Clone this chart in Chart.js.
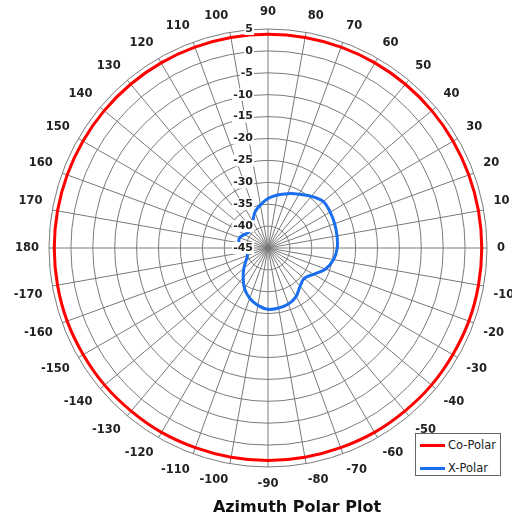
<!DOCTYPE html>
<html>
<head>
<meta charset="utf-8">
<script src="https://cdn.jsdelivr.net/npm/chart.js@4/dist/chart.umd.min.js"></script>
<style>
  body { margin: 0; background: #fff; }
  #wrap { position: relative; width: 512px; height: 520px; overflow: hidden; }
  #polarChart { position: absolute; left: -24px; top: -24px; }
  #plotTitle {
    position: absolute; left: 147px; top: 499px; width: 300px; text-align: center;
    font: bold 16px "DejaVu Sans", sans-serif; line-height: 16px; color: #111;
  }
  #legendBox {
    position: absolute; left: 415px; top: 433px; width: 84px; height: 41px;
    border: 1px solid #666; background: #fff;
    font: 11.5px "DejaVu Sans", sans-serif; color: #222;
  }
  .legendRow { position: absolute; left: 4px; height: 14px; line-height: 14px; white-space: nowrap; }
  .legendRow span.swatch { display: inline-block; width: 25px; height: 3px; vertical-align: middle; margin-right: 3px; }
</style>
</head>
<body>
<div id="wrap">
  <canvas id="polarChart" width="560" height="560"></canvas>
  <div id="plotTitle">Azimuth Polar Plot</div>
  <div id="legendBox"></div>
</div>
<script>
// azimuth in degrees, 0 = right, counter-clockwise
const azimuthDeg = [0, 10, 20, 30, 40, 50, 60, 70, 80, 90, 100, 110, 120, 130, 140, 150, 160, 170,
                    180, 190, 200, 210, 220, 230, 240, 250, 260, 270, 280, 290, 300, 310, 320, 330, 340, 350];
const azimuthLabels = ['0', '10', '20', '30', '40', '50', '60', '70', '80', '90', '100', '110', '120', '130', '140', '150', '160', '170',
                       '180', '-170', '-160', '-150', '-140', '-130', '-120', '-110', '-100', '-90', '-80', '-70', '-60', '-50', '-40', '-30', '-20', '-10'];

const radialTicks = [5, 0, -5, -10, -15, -20, -25, -30, -35, -40, -45];

const seriesNames = ['Co-Polar', 'X-Polar'];
const seriesColors = ['#ff0000', '#1a6ef0'];

// dB values, same order as azimuthDeg
const coPolar = [3.8, 3.8, 3.8, 3.8, 3.8, 3.8, 3.8, 3.8, 3.8, 3.8, 3.8, 3.8, 3.8, 3.8, 3.8, 3.8, 3.8, 3.8,
                 3.8, 3.8, 3.8, 3.7, 3.7, 3.6, 3.6, 3.5, 3.5, 3.5, 3.5, 3.5, 3.6, 3.6, 3.7, 3.7, 3.8, 3.8];
const xPolar = [-29.2, -29.0, -28.8, -28.6, -28.5, -29.6, -30.8, -31.8, -32.7, -33.7, -35.0, -36.3, -38.0, -38.9, -39.3, -38.8, -38.1, -38.3,
                -39.2, -40.0, -40.0, -39.2, -37.8, -36.2, -34.3, -32.8, -31.7, -31.0, -31.1, -31.4, -32.2, -33.6, -34.2, -33.0, -31.0, -29.8];

// radar goes clockwise from the top, so start at 90 and walk downwards
const order = azimuthDeg.map((d, k) => (9 - k + 36) % 36);
const pick = arr => order.map(i => arr[i]);

const FONT = "'DejaVu Sans', Verdana, sans-serif";
const GRID = '#7a7a7a';

// value labels drawn left of the vertical axis, above the curves
const radialLabelPlugin = {
    id: 'radialLabels',
    afterDatasetsDraw(chart) {
        const scale = chart.scales.r;
        const ctx = chart.ctx;
        ctx.save();
        ctx.font = 'bold 11px ' + FONT;
        ctx.textAlign = 'right';
        ctx.textBaseline = 'middle';
        radialTicks.forEach(v => {
            const y = scale.yCenter - scale.getDistanceFromCenterForValue(v);
            const xr = scale.xCenter - 15;
            const txt = String(v);
            const w = ctx.measureText(txt).width;
            ctx.fillStyle = '#fff';
            ctx.fillRect(xr - w - 1, y - 6, w + 2, 12);
            ctx.fillStyle = '#222';
            ctx.fillText(txt, xr, y);
        });
        ctx.restore();
    }
};

const chart = new Chart(document.getElementById('polarChart'), {
    type: 'radar',
    data: {
        labels: pick(azimuthLabels),
        datasets: [
            { label: seriesNames[0], data: pick(coPolar), borderColor: seriesColors[0], borderWidth: 3, fill: false, tension: 0.3 },
            { label: seriesNames[1], data: pick(xPolar), borderColor: seriesColors[1], borderWidth: 3, fill: false, tension: 0.35 }
        ]
    },
    options: {
        responsive: false,
        animation: false,
        devicePixelRatio: 1,
        layout: { autoPadding: false, padding: { left: 36, right: 18, top: 18, bottom: 36 } },
        elements: { point: { radius: 0, hoverRadius: 0 } },
        plugins: {
            legend: { display: false },
            title: { display: false },
            tooltip: { enabled: false }
        },
        scales: {
            r: {
                min: -45,
                max: 5,
                ticks: { stepSize: 5, display: false },
                grid: { circular: true, color: GRID, lineWidth: 1 },
                angleLines: { color: GRID, lineWidth: 1 },
                pointLabels: { font: { family: FONT, size: 11.5, weight: 'bold' }, color: '#222', padding: 10 }
            }
        }
    },
    plugins: [radialLabelPlugin]
});

// nudge the layout padding so the polar area lands where the reference has it
// (canvas is offset by 24px inside the wrapper)
const want = { x: 268 + 24, y: 248 + 24, r: 219 };
for (let it = 0; it < 10; it++) {
    const s = chart.scales.r;
    const pad = chart.options.layout.padding;
    const dr = want.r - s.drawingArea;
    const dx = want.x - s.xCenter;
    const dy = want.y - s.yCenter;
    if (Math.abs(dr) < 0.5 && Math.abs(dx) < 0.5 && Math.abs(dy) < 0.5) break;
    pad.left = Math.max(0, pad.left - dr + dx);
    pad.right = Math.max(0, pad.right - dr - dx);
    pad.top = Math.max(0, pad.top - dr + dy);
    pad.bottom = Math.max(0, pad.bottom - dr - dy);
    chart.update();
}

// legend box
const legendBox = document.getElementById('legendBox');
seriesNames.forEach((name, i) => {
    const row = document.createElement('div');
    row.className = 'legendRow';
    row.style.top = (4 + i * 23) + 'px';
    row.innerHTML = '<span class="swatch" style="background:' + seriesColors[i] + '"></span>' + name;
    legendBox.appendChild(row);
});
</script>
</body>
</html>
